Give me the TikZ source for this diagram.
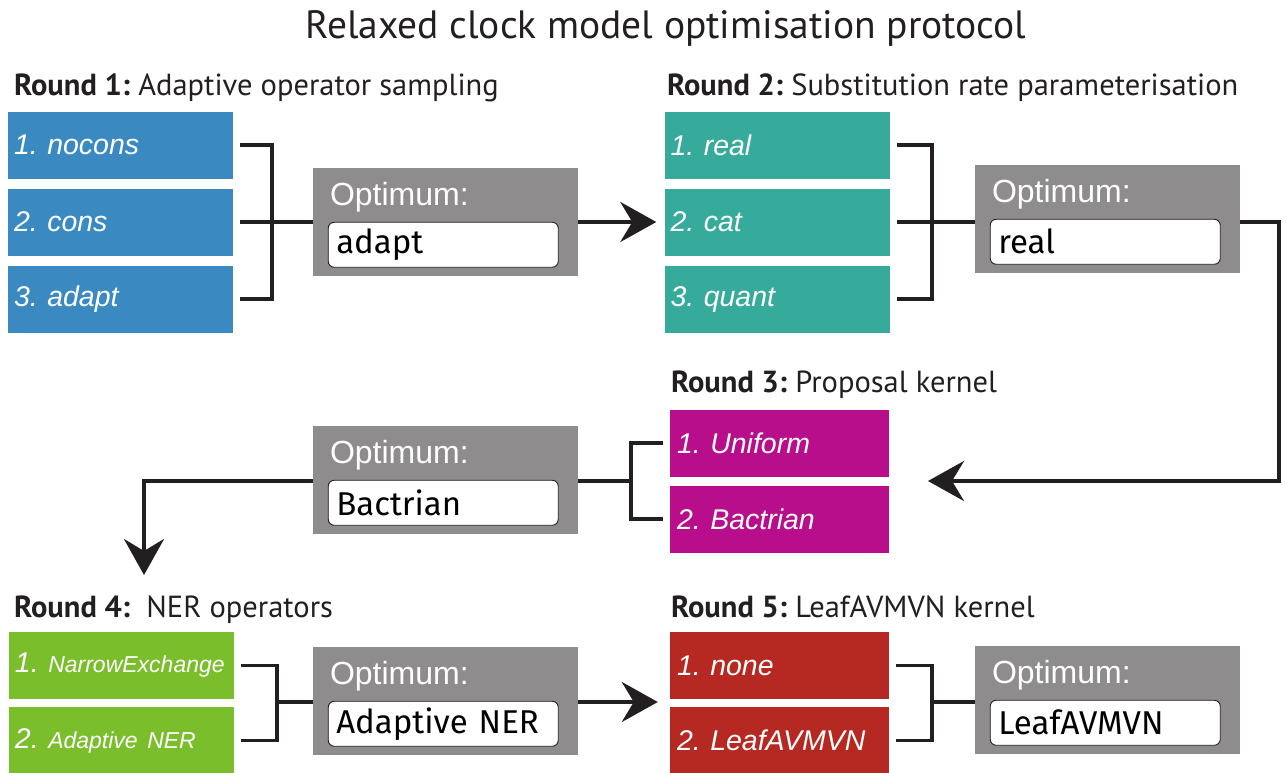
\documentclass[tikz,border=0pt]{standalone}
\usepackage{fontspec}
\setmainfont{PT Sans}
\newfontfamily\boxfont{Liberation Sans}
\newfontfamily\handfont{Fira Sans}
\usepackage{xcolor}
\definecolor{bblue}{HTML}{3A8AC1}
\definecolor{tteal}{HTML}{36AB9B}
\definecolor{mmagenta}{HTML}{B80E8C}
\definecolor{ggreen}{HTML}{7BBE2C}
\definecolor{rred}{HTML}{B62822}
\definecolor{ggray}{HTML}{8E8C8D}
\definecolor{iink}{HTML}{231F20}
\usepackage{tikz}
\usetikzlibrary{calc}
\usetikzlibrary{positioning}
\usetikzlibrary{arrows.meta}
\frenchspacing

\tikzset{
  choice/.style={rectangle, fill=#1, text=white, anchor=center, align=left,
    minimum height=67pt, text width=213pt, inner xsep=6pt, inner ysep=0pt,
    font=\boxfont\itshape\fontsize{28.5}{30}\selectfont},
  optbox/.style={rectangle, fill=ggray, minimum width=265pt, minimum height=108pt, inner sep=0pt},
  optlabel/.style={anchor=west, inner sep=0pt, text=white, font=\boxfont\fontsize{32}{34}\selectfont},
  valbox/.style={rectangle, rounded corners=6pt, fill=white, draw=iink, line width=0.9pt,
    anchor=north west, minimum height=45pt, text width=214pt, inner xsep=8pt, inner ysep=0pt,
    align=left, font=\handfont\fontsize{33}{35}\selectfont},
  head/.style={anchor=base west, inner sep=0pt, font=\fontsize{30.5}{32}\selectfont, text=iink},
  brk/.style={draw=iink, line width=3.6pt},
  arr/.style={draw=iink, line width=4pt, -{Stealth[length=36pt, width=40pt, inset=12pt]}}
}

\begin{document}
\begin{tikzpicture}[x=1pt,y=-1pt]
  \useasboundingbox (0,0) rectangle (1286,772);
  \node[anchor=base, inner sep=0pt, font=\fontsize{39.5}{41}\selectfont, text=iink] (title) at (666,38) {Relaxed clock model optimisation protocol};

  % round 1
  \node[head] (h1) at (14,95) {\textbf{Round 1:} Adaptive operator sampling};
  \node[choice=bblue] (b1) at (120.5,145) {1. nocons};
  \node[choice=bblue] (b2) at (120.5,222) {2. cons};
  \node[choice=bblue] (b3) at (120.5,299) {3. adapt};
  \coordinate (j1) at (272,222);
  \node[optbox] (opt1) at (445.5,222) {};
  \node[optlabel] (opt1l) at ($(opt1.north west)+(17,29)$) {Optimum:};
  \node[valbox] (v1) at ($(opt1.north west)+(15,54)$) {adapt};
  \draw[brk] ($(b1.east)+(7,0)$) -| (j1) |- ($(b3.east)+(7,0)$);
  \draw[brk] ($(b2.east)+(7,0)$) -- (opt1.west);

  % round 2
  \node[head] (h2) at (667,95) {\textbf{Round 2:} Substitution rate parameterisation};
  \node[choice=tteal] (t1) at (777,145) {1. real};
  \node[choice=tteal] (t2) at (777,222) {2. cat};
  \node[choice=tteal] (t3) at (777,299) {3. quant};
  \coordinate (j2) at (932,222);
  \node[optbox] (opt2) at (1107.5,219) {};
  \node[optlabel] (opt2l) at ($(opt2.north west)+(17,29)$) {Optimum:};
  \node[valbox] (v2) at ($(opt2.north west)+(15,54)$) {real};
  \draw[arr] (opt1.east) -- ($(t2.west)+(-8,0)$);
  \draw[brk] ($(t1.east)+(7,0)$) -| (j2) |- ($(t3.east)+(7,0)$);
  \draw[brk] ($(t2.east)+(7,0)$) -- (opt2.west |- t2);

  % round 3
  \node[head] (h3) at (671,392) {\textbf{Round 3:} Proposal kernel};
  \node[choice=mmagenta, text width=205pt, inner xsep=7pt] (m1) at (779.5,443) {1. Uniform};
  \node[choice=mmagenta, text width=205pt, inner xsep=7pt] (m2) at (779.5,519) {2. Bactrian};
  \coordinate (c2) at (1279,481);
  \coordinate (tip3) at (928,481);
  \coordinate (j3) at (631,481);
  \node[optbox] (opt3) at (445.5,480) {};
  \node[optlabel] (opt3l) at ($(opt3.north west)+(17,29)$) {Optimum:};
  \node[valbox] (v3) at ($(opt3.north west)+(15,54)$) {Bactrian};
  \draw[arr] (opt2.east |- t2) -| (c2) -- (tip3);
  \draw[brk] ($(m1.west)+(-7,0)$) -| (j3) |- ($(m2.west)+(-7,0)$);
  \draw[brk] (j3) -- (opt3.east |- j3);

  % round 4
  \coordinate (tip4) at (144,575);
  \draw[arr] (opt3.west |- j3) -| (tip4);
  \node[head] (h4) at (14,617) {\textbf{Round 4:}\ \ NER operators};
  \node[choice=ggreen] (g1) at (121.5,665.5) {1. {\fontsize{23}{25}\selectfont NarrowExchange}};
  \node[choice=ggreen] (g2) at (121.5,740.5) {2. {\fontsize{23}{25}\selectfont Adaptive NER}};
  \coordinate (j4) at (277,702);
  \node[optbox] (opt4) at (445.5,701) {};
  \node[optlabel] (opt4l) at ($(opt4.north west)+(17,29)$) {Optimum:};
  \node[valbox] (v4) at ($(opt4.north west)+(15,54)$) {Adaptive NER};
  \draw[brk] ($(g1.east)+(7,0)$) -| (j4) |- ($(g2.east)+(7,0)$);
  \draw[brk] (j4) -- (opt4.west |- j4);

  % round 5
  \node[head] (h5) at (671,617) {\textbf{Round 5:} LeafAVMVN kernel};
  \node[choice=rred, text width=205pt, inner xsep=7pt] (r1) at (779.5,665.5) {1. none};
  \node[choice=rred, text width=205pt, inner xsep=7pt] (r2) at (779.5,740.5) {2. LeafAVMVN};
  \coordinate (j5) at (932,702);
  \node[optbox] (opt5) at (1107.5,700) {};
  \node[optlabel] (opt5l) at ($(opt5.north west)+(17,29)$) {Optimum:};
  \node[valbox] (v5) at ($(opt5.north west)+(15,54)$) {LeafAVMVN};
  \draw[arr] (opt4.east |- j4) -- ($(r1.west |- j4)+(-12,0)$);
  \draw[brk] ($(r1.east)+(7,0)$) -| (j5) |- ($(r2.east)+(7,0)$);
  \draw[brk] (j5) -- (opt5.west |- j5);
\end{tikzpicture}
\end{document}
